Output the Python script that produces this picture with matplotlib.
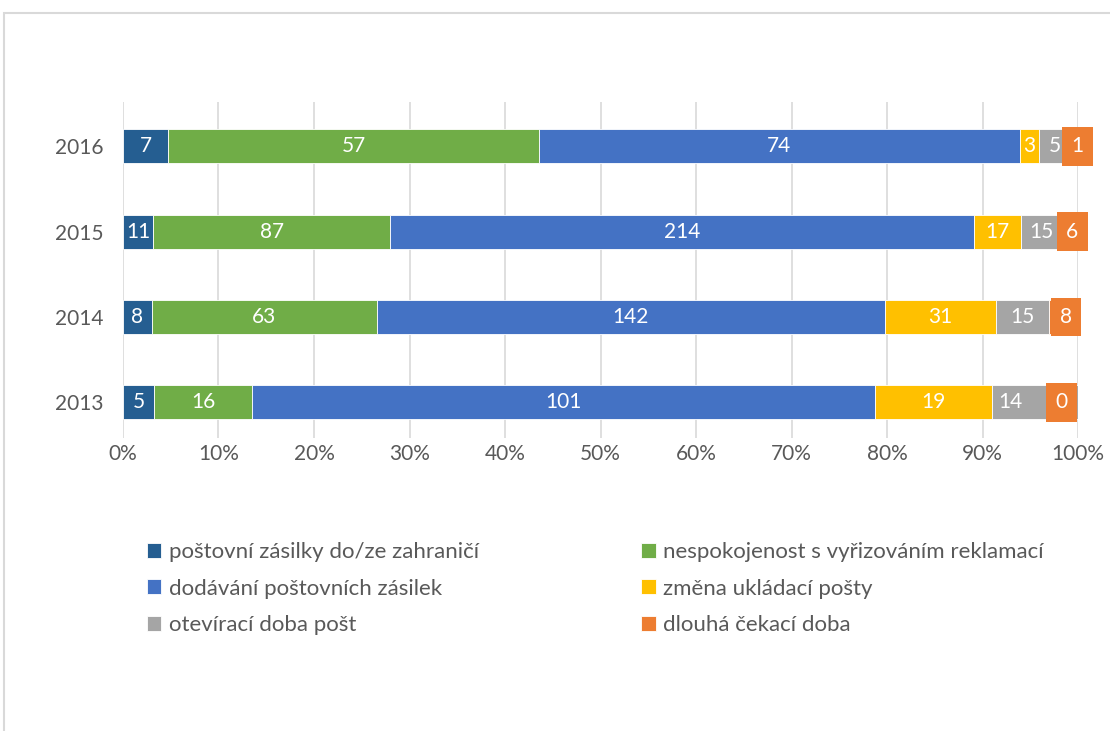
import matplotlib.pyplot as plt
from matplotlib.patches import Rectangle
import numpy as np

plt.rcParams['font.family'] = ['Lato', 'DejaVu Sans']

years = ['2013', '2014', '2015', '2016']
series = [
    'poštovní zásilky do/ze zahraničí',
    'nespokojenost s vyřizováním reklamací',
    'dodávání poštovních zásilek',
    'změna ukládací pošty',
    'otevírací doba pošt',
    'dlouhá čekací doba',
]
zahranici = [5, 8, 11, 7]
reklamace = [16, 63, 87, 57]
dodavani = [101, 142, 214, 74]
ukladaci = [19, 31, 17, 3]
oteviraci = [14, 15, 15, 5]
cekaci = [0, 8, 6, 1]
colors = ['#255E91', '#70AD47', '#4472C4', '#FFC000', '#A5A5A5', '#ED7D31']


def main():
    data = np.array([zahranici, reklamace, dodavani, ukladaci, oteviraci, cekaci], dtype=float)
    totals = data.sum(axis=0)
    share = data / totals * 100

    fig = plt.figure(figsize=(11.1, 7.31), dpi=100)
    ax = fig.add_axes([0.1108, 0.4008, 0.8604, 0.4597])
    fig.patches.append(Rectangle((4 / 1110, -0.1), 1.2, 1.1 - 13 / 731,
                                 transform=fig.transFigure, fill=False,
                                 edgecolor='#d9d9d9', lw=1.5))

    y = np.arange(len(years))
    left = np.zeros(len(years))
    last = len(series) - 1
    for i, name in enumerate(series):
        ax.barh(y, share[i], left=left, height=0.4, color=colors[i], label=name,
                edgecolor='white', linewidth=0.6, zorder=3)
        for j in range(len(years)):
            txt = str(int(data[i, j]))
            cx = left[j] + share[i, j] / 2
            if i == last:
                ha = 'right' if data[i, j] == 0 else 'center'
                xx = left[j] + share[i, j] - 1.1 if data[i, j] == 0 else cx + 0.25
                ax.text(xx, y[j], txt, ha=ha, va='center', color='white', fontsize=15,
                        zorder=5, bbox=dict(boxstyle='square,pad=0.45', fc=colors[i], ec='none'))
            else:
                # label moves aside when the next box sits on top of it
                if i == last - 1 and data[last, j] == 0:
                    cx = left[j] + share[i, j] * 0.22
                ax.text(cx, y[j], txt, ha='center', va='center', color='white',
                        fontsize=15, zorder=5)
        left += share[i]

    ax.set_xlim(0, 100)
    ax.set_ylim(-0.42, 3.52)
    ax.set_yticks(y)
    ax.set_yticklabels(years)
    ax.set_xticks(np.arange(0, 101, 10))
    ax.set_xticklabels([f'{v}%' for v in range(0, 101, 10)])
    ax.tick_params(length=0, labelsize=15, labelcolor='#595959')
    ax.tick_params(axis='y', pad=14)
    ax.tick_params(axis='x', pad=4)
    ax.grid(axis='x', color='#d9d9d9', lw=1.2, zorder=0)
    for s in ax.spines.values():
        s.set_visible(False)

    handles, labels = ax.get_legend_handles_labels()
    order = [0, 2, 4, 1, 3, 5]
    fig.legend([handles[k] for k in order], [labels[k] for k in order], ncol=2,
               loc='upper left', bbox_to_anchor=(0.114, 0.286), frameon=False,
               fontsize=16, labelcolor='#595959', handlelength=0.65, handleheight=0.65,
               handletextpad=0.35, columnspacing=7.3, labelspacing=0.75)

    fig.savefig('out.png', dpi=100)


if __name__ == "__main__":
    main()
